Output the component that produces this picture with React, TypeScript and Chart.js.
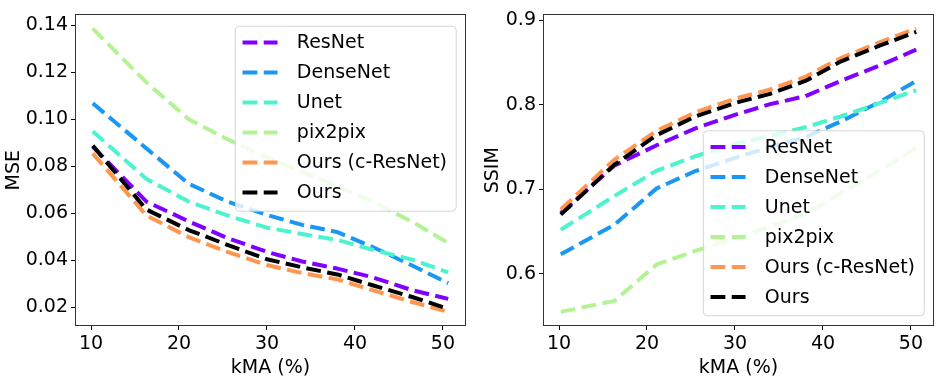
import React, { useEffect, useRef } from "react";
import { Chart, registerables } from "chart.js";

Chart.register(...registerables);

// ---------- data ----------
const kma = [10.2, 16.3, 21.1, 25.5, 30, 34, 38, 42, 46.5, 50.6];
const seriesNames = ["ResNet", "DenseNet", "Unet", "pix2pix", "Ours (c-ResNet)", "Ours"];
const seriesColors = ["#8000ff", "#1a96f3", "#4df3ce", "#b3f396", "#ff964f", "#000000"];

const resnetMSE = [0.0884, 0.065, 0.0566, 0.0495, 0.0436, 0.0395, 0.0365, 0.0328, 0.0273, 0.0236];
const densenetMSE = [0.1068, 0.0876, 0.0726, 0.065, 0.0593, 0.0551, 0.052, 0.0457, 0.0378, 0.0303];
const unetMSE = [0.0949, 0.0746, 0.065, 0.0591, 0.0539, 0.0512, 0.0487, 0.0445, 0.0403, 0.0349];
const pix2pixMSE = [0.1386, 0.1157, 0.1, 0.0915, 0.0838, 0.0777, 0.0715, 0.065, 0.0564, 0.0474];
const cresnetMSE = [0.0855, 0.0591, 0.0499, 0.0436, 0.038, 0.0346, 0.0319, 0.0273, 0.0223, 0.0181];
const oursMSE = [0.0888, 0.0616, 0.0529, 0.0466, 0.0405, 0.037, 0.034, 0.0294, 0.0244, 0.0194];

const resnetSSIM = [0.672, 0.728, 0.752, 0.772, 0.788, 0.8006, 0.81, 0.828, 0.8465, 0.865];
const densenetSSIM = [0.623, 0.658, 0.701, 0.7215, 0.737, 0.75, 0.7616, 0.78, 0.8035, 0.828];
const unetSSIM = [0.652, 0.692, 0.722, 0.739, 0.7535, 0.763, 0.7733, 0.786, 0.802, 0.817];
const pix2pixSSIM = [0.555, 0.568, 0.611, 0.627, 0.642, 0.656, 0.671, 0.695, 0.722, 0.749];
const cresnetSSIM = [0.676, 0.735, 0.769, 0.791, 0.807, 0.818, 0.833, 0.855, 0.874, 0.89];
const oursSSIM = [0.67, 0.729, 0.764, 0.786, 0.802, 0.8128, 0.828, 0.851, 0.87, 0.886];

const xTicks = [10, 20, 30, 40, 50];
const mseTicks = [0.02, 0.04, 0.06, 0.08, 0.1, 0.12, 0.14];
const ssimTicks = [0.6, 0.7, 0.8, 0.9];

const FONT = "DejaVu Sans";
const FS = 19;
const DASH = [14.8, 6.4];
const LW = 4;

function padRange(vals: number[]) {
  const mn = Math.min(...vals);
  const mx = Math.max(...vals);
  const m = (mx - mn) * 0.05;
  return [mn - m, mx + m];
}

const framePlugin = {
  id: "frame",
  afterDraw(chart: any) {
    const { ctx, chartArea: a } = chart;
    ctx.save();
    ctx.strokeStyle = "#333";
    ctx.lineWidth = 1;
    ctx.strokeRect(Math.round(a.left) + 0.5, Math.round(a.top) + 0.5, Math.round(a.right - a.left) - 1, Math.round(a.bottom - a.top) - 1);
    ctx.restore();
  },
};

function makeLegendPlugin(loc: "upper right" | "lower right") {
  return {
    id: "mplLegend",
    afterDatasetsDraw(chart: any) {
      const { ctx, chartArea: a } = chart;
      ctx.save();
      ctx.font = `${FS}px "${FONT}"`;
      const maxW = Math.max(...seriesNames.map((n) => ctx.measureText(n).width));
      const w = 62 + maxW + 8.7;
      const h = 16.7 + 30 * (seriesNames.length - 1) + 18.3;
      const x = a.right - 10.3 - w;
      const y = loc === "upper right" ? a.top + 11.3 : a.bottom - 10.7 - h;
      ctx.beginPath();
      (ctx as any).roundRect(x + 0.5, y + 0.5, w, h, 4);
      ctx.fillStyle = "rgba(255,255,255,0.8)";
      ctx.fill();
      ctx.strokeStyle = "rgba(204,204,204,0.8)";
      ctx.lineWidth = 1;
      ctx.stroke();
      seriesNames.forEach((name, i) => {
        const cy = y + 16.7 + i * 30;
        ctx.beginPath();
        ctx.setLineDash(DASH);
        ctx.lineCap = "butt";
        ctx.strokeStyle = seriesColors[i];
        ctx.lineWidth = LW;
        ctx.moveTo(x + 7.7, cy);
        ctx.lineTo(x + 7.7 + 35, cy);
        ctx.stroke();
        ctx.setLineDash([]);
        ctx.fillStyle = "#000";
        ctx.textBaseline = "middle";
        ctx.textAlign = "left";
        ctx.fillText(name, x + 62, cy + 1);
      });
      ctx.restore();
    },
  };
}

function buildConfig(
  series: number[][],
  yTicks: number[],
  yDigits: number,
  yTitle: string,
  yAxisWidth: number,
  yTitlePad: number,
  rightPad: number,
  loc: "upper right" | "lower right"
) {
  const [xmin, xmax] = padRange(kma);
  const [ymin, ymax] = padRange(series.flat());
  return {
    type: "line" as const,
    data: {
      datasets: series.map((vals, i) => ({
        label: seriesNames[i],
        data: vals.map((v, j) => ({ x: kma[j], y: v })),
        borderColor: seriesColors[i],
        backgroundColor: seriesColors[i],
        borderWidth: LW,
        borderDash: DASH,
        borderCapStyle: "butt" as const,
        borderJoinStyle: "round" as const,
        pointRadius: 0,
        tension: 0,
        fill: false,
        order: seriesNames.length - 1 - i,
      })),
    },
    options: {
      responsive: false,
      animation: false as const,
      devicePixelRatio: 1,
      layout: { padding: { top: 8, right: rightPad, bottom: 0, left: 0 } },
      plugins: { legend: { display: false }, tooltip: { enabled: false } },
      scales: {
        x: {
          type: "linear" as const,
          min: xmin,
          max: xmax,
          afterBuildTicks: (s: any) => {
            s.ticks = xTicks.map((v) => ({ value: v }));
          },
          afterFit: (s: any) => {
            s.height = 55;
          },
          grid: { display: true, drawOnChartArea: false, drawTicks: true, tickLength: 4, tickColor: "#000", tickWidth: 1 },
          border: { display: false },
          ticks: { color: "#000", font: { family: FONT, size: FS }, padding: 3, maxRotation: 0, callback: (v: any) => String(v) },
          title: { display: true, text: "kMA (%)", color: "#000", font: { family: FONT, size: FS }, padding: { top: 0, bottom: 2 } },
        },
        y: {
          type: "linear" as const,
          min: ymin,
          max: ymax,
          afterBuildTicks: (s: any) => {
            s.ticks = yTicks.map((v) => ({ value: v }));
          },
          afterFit: (s: any) => {
            s.width = yAxisWidth;
          },
          grid: { display: true, drawOnChartArea: false, drawTicks: true, tickLength: 4, tickColor: "#000", tickWidth: 1 },
          border: { display: false },
          ticks: { color: "#000", font: { family: FONT, size: FS }, padding: 3, callback: (v: any) => Number(v).toFixed(yDigits) },
          title: { display: true, text: yTitle, color: "#000", font: { family: FONT, size: FS }, padding: { top: yTitlePad, bottom: 0 } },
        },
      },
    },
    plugins: [framePlugin, makeLegendPlugin(loc)],
  };
}

function ChartCanvas({ config, left }: { config: any; left: number }) {
  const ref = useRef<HTMLCanvasElement | null>(null);
  useEffect(() => {
    if (!ref.current) return;
    const chart = new Chart(ref.current, config);
    return () => chart.destroy();
  }, [config]);
  return (
    <canvas
      ref={ref}
      width={471}
      height={381}
      style={{ position: "absolute", left, top: 0, width: 471, height: 381 }}
    />
  );
}

const leftConfig = buildConfig(
  [resnetMSE, densenetMSE, unetMSE, pix2pixMSE, cresnetMSE, oursMSE],
  mseTicks,
  2,
  "MSE",
  75,
  3,
  5,
  "upper right"
);
const rightConfig = buildConfig(
  [resnetSSIM, densenetSSIM, unetSSIM, pix2pixSSIM, cresnetSSIM, oursSSIM],
  ssimTicks,
  1,
  "SSIM",
  72,
  11,
  8,
  "lower right"
);

export default function App() {
  return (
    <div style={{ position: "absolute", left: 0, top: 0, width: 942, height: 381, background: "#fff" }}>
      <ChartCanvas config={leftConfig} left={0} />
      <ChartCanvas config={rightConfig} left={471} />
    </div>
  );
}
